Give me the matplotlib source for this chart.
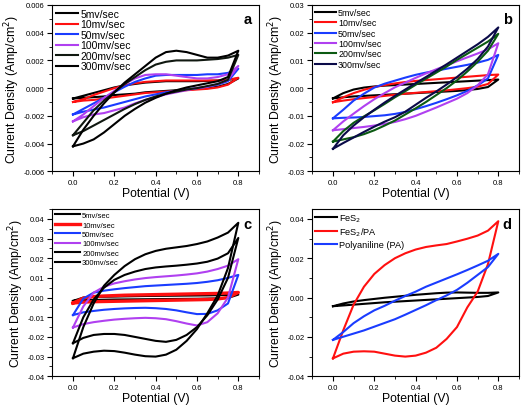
import numpy as np
import matplotlib
matplotlib.use("Agg")
import matplotlib.pyplot as plt
from matplotlib.ticker import MultipleLocator, FormatStrFormatter

plt.rcParams['font.family'] = ['Liberation Sans', 'DejaVu Sans']
plt.rcParams['axes.unicode_minus'] = False

# potential grid (V) for every branch
potential = [0.0, 0.05, 0.1, 0.15, 0.2, 0.25, 0.3, 0.35, 0.4,
             0.45, 0.5, 0.55, 0.6, 0.65, 0.7, 0.75, 0.8]

rates = ['5mv/sec', '10mv/sec', '50mv/sec', '100mv/sec', '200mv/sec', '300mv/sec']

# currents in mA/cm2 : (anodic branch, cathodic branch)
a_5 = ([-0.75, -0.55, -0.35, -0.15, 0.05, 0.2, 0.3, 0.4, 0.45, 0.5, 0.5, 0.5, 0.5, 0.52, 0.55, 0.6, 0.7],
       [-0.75, -0.7, -0.65, -0.6, -0.5, -0.45, -0.4, -0.3, -0.25, -0.2, -0.15, -0.1, -0.05, 0.0, 0.1, 0.3, 0.7])
a_10 = ([-1.0, -0.8, -0.5, -0.25, 0.0, 0.2, 0.35, 0.45, 0.5, 0.55, 0.55, 0.55, 0.55, 0.55, 0.55, 0.6, 0.75],
        [-1.0, -0.9, -0.85, -0.75, -0.65, -0.55, -0.45, -0.35, -0.3, -0.25, -0.2, -0.15, -0.1, -0.05, 0.05, 0.25, 0.75])
a_50 = ([-1.9, -1.5, -1.1, -0.7, -0.3, 0.1, 0.45, 0.7, 0.9, 0.95, 0.95, 0.95, 0.95, 1.0, 1.0, 1.1, 1.4],
        [-1.9, -1.7, -1.55, -1.4, -1.2, -1.0, -0.8, -0.6, -0.45, -0.3, -0.2, -0.1, 0.0, 0.1, 0.25, 0.5, 1.4])
a_100 = ([-2.4, -1.9, -1.3, -0.7, -0.2, 0.3, 0.7, 0.95, 1.0, 1.0, 0.9, 0.8, 0.7, 0.7, 0.8, 1.0, 1.6],
         [-2.4, -2.1, -1.9, -1.8, -1.6, -1.4, -1.1, -0.85, -0.65, -0.45, -0.3, -0.15, 0.0, 0.1, 0.3, 0.6, 1.6])
a_200 = ([-3.4, -2.5, -1.6, -0.9, -0.3, 0.3, 0.8, 1.3, 1.7, 1.9, 2.0, 2.0, 2.0, 2.05, 2.1, 2.2, 2.4],
         [-3.4, -3.1, -2.7, -2.3, -1.9, -1.5, -1.15, -0.85, -0.6, -0.4, -0.25, -0.1, 0.0, 0.15, 0.3, 0.6, 2.4])
a_300 = ([-4.2, -3.0, -2.0, -1.1, -0.3, 0.4, 1.0, 1.6, 2.2, 2.6, 2.7, 2.6, 2.4, 2.2, 2.2, 2.35, 2.7],
         [-4.2, -4.0, -3.7, -3.2, -2.6, -2.0, -1.5, -1.05, -0.7, -0.4, -0.15, 0.05, 0.2, 0.35, 0.5, 0.8, 2.7])

b_5 = ([-3.7, -1.8, -0.5, 0.2, 0.6, 0.9, 1.1, 1.3, 1.5, 1.7, 1.9, 2.1, 2.3, 2.5, 2.7, 2.9, 3.1],
       [-3.7, -3.3, -3.0, -2.8, -2.6, -2.4, -2.2, -2.0, -1.8, -1.6, -1.4, -1.2, -1.0, -0.7, -0.3, 0.4, 3.1])
b_10 = ([-5.1, -3.3, -1.8, -0.6, 0.4, 1.1, 1.7, 2.2, 2.6, 2.9, 3.2, 3.5, 3.8, 4.1, 4.4, 4.7, 4.9],
        [-5.1, -4.5, -4.0, -3.6, -3.2, -2.8, -2.4, -2.0, -1.7, -1.4, -1.1, -0.8, -0.4, 0.0, 0.5, 1.5, 4.9])
b_50 = ([-10.9, -7.8, -4.5, -2.0, 0.2, 1.6, 2.7, 3.8, 4.8, 5.6, 6.3, 7.0, 7.7, 8.4, 9.2, 10.2, 12.0],
        [-10.9, -10.7, -10.6, -10.4, -10.1, -9.8, -9.3, -8.6, -7.6, -6.5, -5.3, -4.0, -2.6, -1.0, 1.0, 3.5, 12.0])
b_100 = ([-15.2, -12.0, -9.2, -6.5, -4.0, -1.8, 0.3, 2.0, 3.7, 5.3, 6.8, 8.2, 9.7, 11.1, 12.5, 14.0, 16.2],
         [-15.2, -14.8, -14.4, -14.0, -13.5, -12.9, -12.2, -11.2, -10.0, -8.5, -7.0, -5.4, -3.8, -1.8, 1.0, 5.0, 16.2])
b_200 = ([-19.3, -15.5, -12.5, -10.2, -8.0, -5.7, -3.3, -1.1, 1.2, 3.4, 5.6, 7.8, 10.2, 12.4, 14.6, 16.8, 19.6],
         [-19.3, -18.5, -17.7, -16.6, -15.2, -13.5, -11.7, -9.5, -7.3, -5.0, -2.5, 0.0, 2.8, 6.0, 9.5, 13.5, 19.6])
b_300 = ([-21.9, -17.0, -13.5, -10.5, -7.8, -5.2, -2.8, -0.5, 1.8, 4.0, 6.3, 8.6, 11.0, 13.4, 15.8, 18.5, 21.9],
         [-21.9, -19.8, -17.8, -15.8, -13.9, -12.1, -10.5, -8.5, -6.0, -3.5, -1.2, 1.3, 4.0, 7.0, 10.5, 15.0, 21.9])

c_5 = ([-1.7, 0.0, 0.3, 0.4, 0.5, 0.6, 0.7, 0.8, 0.85, 0.9, 0.95, 1.0, 1.05, 1.1, 1.2, 1.3, 1.5],
       [-1.7, -1.3, -1.2, -1.1, -1.0, -0.95, -0.9, -0.85, -0.8, -0.75, -0.7, -0.65, -0.6, -0.5, -0.4, -0.2, 1.5])
c_10 = ([-2.8, -0.3, 0.5, 0.8, 1.0, 1.2, 1.3, 1.4, 1.5, 1.6, 1.7, 1.8, 1.9, 2.0, 2.1, 2.3, 2.6],
        [-2.8, -2.3, -2.1, -2.0, -1.9, -1.8, -1.7, -1.6, -1.5, -1.4, -1.3, -1.2, -1.1, -1.0, -0.7, 0.0, 2.6])
c_50 = ([-8.9, -0.5, 2.5, 3.5, 4.2, 4.8, 5.3, 5.8, 6.1, 6.4, 6.7, 7.0, 7.4, 8.0, 8.8, 10.0, 11.5],
        [-8.9, -7.5, -6.8, -6.2, -5.8, -5.5, -5.3, -5.2, -5.4, -5.8, -6.5, -7.5, -8.4, -8.3, -6.5, -3.0, 11.5])
c_100 = ([-15.2, -4.5, 2.5, 5.5, 7.2, 8.3, 9.2, 9.9, 10.4, 10.8, 11.2, 11.7, 12.3, 13.2, 14.5, 16.2, 19.5],
         [-15.2, -13.5, -12.5, -11.8, -11.2, -10.8, -10.5, -10.3, -10.5, -11.0, -12.0, -13.2, -14.2, -12.5, -8.0, 0.0, 19.5])
c_200 = ([-23.2, -10.0, -1.0, 5.0, 9.0, 11.5, 13.2, 14.5, 15.3, 15.8, 16.2, 16.7, 17.3, 18.2, 19.8, 22.5, 30.3],
         [-23.2, -20.5, -19.0, -18.5, -18.5, -19.0, -20.0, -21.0, -22.0, -22.5, -21.5, -19.0, -15.0, -9.0, -1.0, 10.0, 30.3])
c_300 = ([-30.8, -15.0, -3.0, 6.0, 11.5, 16.0, 19.5, 22.0, 23.7, 24.8, 25.5, 26.2, 27.2, 28.5, 30.5, 33.0, 38.0],
         [-30.8, -28.5, -27.5, -27.0, -27.2, -28.0, -29.0, -29.8, -30.0, -29.0, -26.5, -22.0, -16.0, -8.0, 1.0, 15.0, 38.0])

d_fes2 = ([-4.4, -3.0, -2.0, -1.3, -0.7, -0.1, 0.4, 0.9, 1.4, 1.8, 2.2, 2.5, 2.6, 2.5, 2.4, 2.4, 2.6],
          [-4.4, -4.0, -3.6, -3.2, -2.8, -2.4, -2.1, -1.8, -1.5, -1.2, -0.9, -0.6, -0.3, 0.0, 0.3, 0.8, 2.6])
d_fes2pa = ([-30.9, -16.6, -3.6, 5.5, 12.0, 16.5, 20.0, 22.5, 24.4, 25.7, 26.5, 27.2, 28.5, 29.9, 31.5, 34.0, 38.8],
            [-30.9, -28.5, -27.5, -27.3, -27.5, -28.5, -29.5, -30.0, -29.5, -28.0, -25.5, -21.0, -15.0, -5.0, 3.0, 17.0, 38.8])
d_pa = ([-21.5, -17.5, -13.0, -9.5, -6.5, -4.2, -1.6, 0.8, 3.0, 5.5, 7.6, 9.7, 11.8, 14.0, 16.3, 18.7, 22.2],
        [-21.5, -19.9, -18.3, -16.7, -14.8, -12.9, -11.0, -8.7, -6.3, -3.9, -1.3, 1.1, 3.9, 7.5, 11.5, 15.5, 22.2])

d_labels = ['FeS$_2$', 'FeS$_2$/PA', 'Polyaniline (PA)']

black = '#000000'
red = '#ff1010'
blue = '#1a3cff'
purple = '#b040f0'
green = '#0b5a12'
navy = '#0a0a48'


def loop(branches):
    up, lo = branches
    v = np.array(potential)
    x = np.concatenate([v, v[::-1]])
    y = np.concatenate([np.array(up), np.array(lo)[::-1]]) / 1000.0
    return x, y


def style(ax, ylim, major, minor, fmt, letter):
    ax.set_xlim(-0.1, 0.9)
    ax.set_ylim(*ylim)
    ax.xaxis.set_major_locator(MultipleLocator(0.2))
    ax.xaxis.set_minor_locator(MultipleLocator(0.1))
    ax.xaxis.set_major_formatter(FormatStrFormatter('%.1f'))
    ax.yaxis.set_major_locator(MultipleLocator(major))
    ax.yaxis.set_minor_locator(MultipleLocator(minor))
    ax.yaxis.set_major_formatter(FormatStrFormatter(fmt))
    ax.tick_params(which='major', length=3.5, width=0.8, labelsize=5.5, pad=2)
    ax.tick_params(which='minor', length=2, width=0.6)
    for s in ax.spines.values():
        s.set_linewidth(0.8)
    ax.set_xlabel('Potential (V)', fontsize=8.8, labelpad=1)
    ax.set_ylabel('Current Density (Amp/cm$^2$)', fontsize=8.8, labelpad=1)
    ax.text(0.965, 0.955, letter, transform=ax.transAxes, ha='right', va='top',
            fontsize=10.5, fontweight='bold')


def legend(ax, handles, labels, size, spacing, hlen):
    ax.legend(handles, labels, loc='upper left', frameon=False, fontsize=size,
              handlelength=hlen, handletextpad=0.25, labelspacing=spacing,
              borderaxespad=0.15, borderpad=0.2)


fig = plt.figure(figsize=(5.21, 4.10), dpi=100)
ax_a = fig.add_axes([0.1004, 0.5798, 0.3967, 0.4056])
ax_b = fig.add_axes([0.5994, 0.5798, 0.3967, 0.4056])
ax_c = fig.add_axes([0.1004, 0.0798, 0.3967, 0.4080])
ax_d = fig.add_axes([0.5994, 0.0798, 0.3967, 0.4080])

lw = 1.5
panels = [
    (ax_a, [a_5, a_10, a_50, a_100, a_200, a_300], [black, red, blue, purple, '#101810', black], 7.5, 0.05, 2.1),
    (ax_b, [b_5, b_10, b_50, b_100, b_200, b_300], [black, red, blue, purple, green, navy], 6.4, 0.15, 2.3),
    (ax_c, [c_5, c_10, c_50, c_100, c_200, c_300], [black, red, blue, purple, black, black], 5.5, 0.28, 3.3),
]
for ax, curves, colors, size, spacing, hlen in panels:
    lines = []
    for br, col in zip(curves, colors):
        x, y = loop(br)
        width = 2.4 if (ax is ax_c and col == red) else lw
        ln, = ax.plot(x, y, color=col, lw=width)
        lines.append(ln)
    legend(ax, lines, rates, size, spacing, hlen)

lines = []
for br, col in zip([d_fes2, d_fes2pa, d_pa], [black, red, blue]):
    x, y = loop(br)
    ln, = ax_d.plot(x, y, color=col, lw=lw)
    lines.append(ln)
legend(ax_d, lines, d_labels, 6.6, 0.2, 2.3)

style(ax_a, (-0.006, 0.006), 0.002, 0.001, '%.3f', 'a')
style(ax_b, (-0.03, 0.03), 0.01, 0.005, '%.2f', 'b')
style(ax_c, (-0.04, 0.045), 0.01, 0.005, '%.2f', 'c')
style(ax_d, (-0.04, 0.045), 0.02, 0.01, '%.2f', 'd')

fig.savefig('out.png', dpi=100)
